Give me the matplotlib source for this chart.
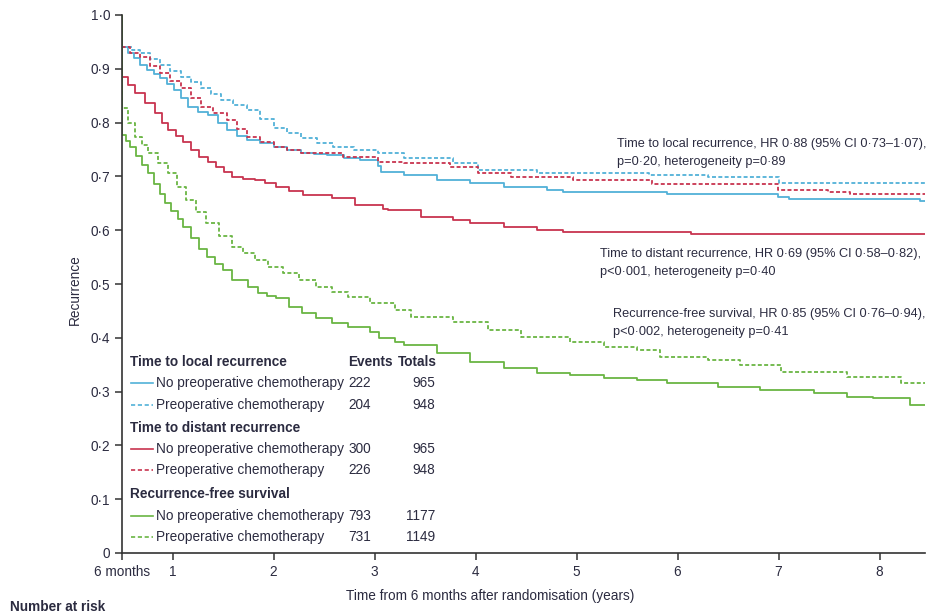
import matplotlib
matplotlib.use('Agg')
import matplotlib.pyplot as plt

plt.rcParams['font.family'] = ['Liberation Sans', 'DejaVu Sans']

# Kaplan-Meier style curves (time in years, proportion)
local_no_t = [0.5, 0.5, 0.56, 0.62, 0.68, 0.75, 0.82, 0.88, 0.95, 1.01, 1.08, 1.15, 1.25, 1.35, 1.45,
              1.54, 1.64, 1.74, 1.87, 2.0, 2.13, 2.27, 2.4, 2.53, 2.7, 2.86, 3.03, 3.06, 3.29, 3.62,
              3.95, 4.28, 4.71, 4.87, 5.9, 6.99, 7.1, 8.4, 8.45]
local_no_s = [1.0, 0.94, 0.93, 0.92, 0.907, 0.898, 0.89, 0.882, 0.872, 0.861, 0.845, 0.829, 0.82,
              0.814, 0.80, 0.786, 0.776, 0.768, 0.762, 0.755, 0.749, 0.743, 0.741, 0.74, 0.735, 0.73,
              0.72, 0.709, 0.703, 0.693, 0.687, 0.68, 0.675, 0.671, 0.667, 0.662, 0.658, 0.655, 0.655]

local_pre_t = [0.5, 0.5, 0.6, 0.68, 0.78, 0.88, 0.98, 1.08, 1.18, 1.28, 1.38, 1.48, 1.6, 1.74, 1.87,
               2.0, 2.13, 2.27, 2.43, 2.59, 2.8, 3.03, 3.29, 3.78, 4.02, 4.61, 5.72, 6.3, 7.0, 8.45]
local_pre_s = [1.0, 0.94, 0.935, 0.929, 0.918, 0.907, 0.896, 0.885, 0.875, 0.864, 0.853, 0.842, 0.832,
               0.823, 0.806, 0.79, 0.78, 0.771, 0.763, 0.755, 0.749, 0.743, 0.734, 0.725, 0.712, 0.706,
               0.703, 0.699, 0.688, 0.688]

dist_no_t = [0.5, 0.5, 0.56, 0.63, 0.73, 0.83, 0.9, 0.96, 1.03, 1.10, 1.18, 1.26, 1.35, 1.43, 1.51,
             1.59, 1.7, 1.82, 1.92, 2.02, 2.15, 2.29, 2.58, 2.81, 3.08, 3.13, 3.46, 3.78, 3.95, 4.28,
             4.61, 4.87, 6.13, 8.45]
dist_no_s = [1.0, 0.885, 0.87, 0.855, 0.837, 0.818, 0.80, 0.786, 0.775, 0.764, 0.75, 0.736, 0.726,
             0.717, 0.708, 0.699, 0.696, 0.693, 0.687, 0.68, 0.672, 0.665, 0.66, 0.647, 0.64, 0.637,
             0.625, 0.619, 0.613, 0.606, 0.6, 0.597, 0.593, 0.593]

dist_pre_t = [0.5, 0.5, 0.58, 0.68, 0.78, 0.88, 0.98, 1.08, 1.18, 1.28, 1.4, 1.54, 1.64, 1.74, 1.87,
              2.0, 2.13, 2.27, 2.69, 3.03, 3.29, 3.75, 4.02, 4.35, 4.97, 5.75, 6.99, 7.49, 7.71, 8.45]
dist_pre_s = [1.0, 0.94, 0.93, 0.922, 0.905, 0.892, 0.878, 0.864, 0.846, 0.829, 0.818, 0.805, 0.789,
              0.773, 0.764, 0.755, 0.749, 0.743, 0.736, 0.727, 0.725, 0.717, 0.706, 0.699, 0.693,
              0.685, 0.675, 0.671, 0.667, 0.667]

rfs_no_t = [0.5, 0.5, 0.54, 0.58, 0.64, 0.7, 0.76, 0.82, 0.88, 0.93, 0.99, 1.05, 1.10, 1.18, 1.26,
            1.34, 1.42, 1.50, 1.59, 1.75, 1.85, 1.94, 2.02, 2.15, 2.28, 2.42, 2.58, 2.74, 2.96, 3.04,
            3.2, 3.29, 3.62, 3.95, 4.28, 4.61, 4.94, 5.27, 5.6, 5.9, 6.4, 6.82, 7.35, 7.68, 7.94,
            8.3, 8.45]
rfs_no_s = [1.0, 0.777, 0.766, 0.755, 0.738, 0.722, 0.706, 0.686, 0.667, 0.65, 0.635, 0.62, 0.606,
            0.585, 0.565, 0.55, 0.538, 0.526, 0.507, 0.494, 0.483, 0.478, 0.474, 0.457, 0.447, 0.437,
            0.428, 0.42, 0.41, 0.40, 0.392, 0.387, 0.372, 0.355, 0.344, 0.334, 0.331, 0.325, 0.322,
            0.316, 0.309, 0.303, 0.297, 0.29, 0.288, 0.275, 0.275]

rfs_pre_t = [0.5, 0.5, 0.56, 0.63, 0.7, 0.76, 0.86, 0.96, 1.04, 1.13, 1.23, 1.33, 1.46, 1.59, 1.7,
             1.82, 1.95, 2.09, 2.25, 2.42, 2.58, 2.74, 2.96, 3.2, 3.36, 3.78, 4.12, 4.45, 4.94, 5.27,
             5.6, 5.83, 6.3, 6.62, 7.02, 7.68, 8.21, 8.45]
rfs_pre_s = [1.0, 0.827, 0.80, 0.773, 0.758, 0.743, 0.725, 0.706, 0.68, 0.656, 0.634, 0.613, 0.59,
             0.569, 0.557, 0.545, 0.532, 0.52, 0.507, 0.494, 0.485, 0.476, 0.465, 0.452, 0.439, 0.43,
             0.414, 0.402, 0.392, 0.383, 0.377, 0.365, 0.359, 0.349, 0.337, 0.327, 0.316, 0.316]

x_ticks = [0.5, 1, 2, 3, 4, 5, 6, 7, 8]
x_labels = ['6 months', '1', '2', '3', '4', '5', '6', '7', '8']
y_ticks = [0, 0.1, 0.2, 0.3, 0.4, 0.5, 0.6, 0.7, 0.8, 0.9, 1.0]
y_labels = ['0', '0·1', '0·2', '0·3', '0·4', '0·5', '0·6', '0·7', '0·8', '0·9', '1·0']

groups = ['Time to local recurrence', 'Time to distant recurrence', 'Recurrence-free survival']
arms = ['No preoperative chemotherapy', 'Preoperative chemotherapy']
events = [[222, 204], [300, 226], [793, 731]]
totals = [[965, 948], [965, 948], [1177, 1149]]

hr_text = [
    'Time to local recurrence, HR 0·88 (95% CI 0·73–1·07),\np=0·20, heterogeneity p=0·89',
    'Time to distant recurrence, HR 0·69 (95% CI 0·58–0·82),\np<0·001, heterogeneity p=0·40',
    'Recurrence-free survival, HR 0·85 (95% CI 0·76–0·94),\np<0·002, heterogeneity p=0·41',
]

blue = '#52b1d8'
red = '#c8344f'
green = '#6ab543'
txt = '#2b2b40'
colors = [blue, red, green]

W, H = 930, 613
fig = plt.figure(figsize=(W / 100, H / 100), dpi=100)
ax = fig.add_axes([122 / W, 1 - 553 / H, (925 - 122) / W, (553 - 15) / H])

lw = 1.3
dash = (0, (2.2, 1.3))
ax.plot(local_no_t, local_no_s, drawstyle='steps-post', color=blue, lw=lw)
ax.plot(local_pre_t, local_pre_s, drawstyle='steps-post', color=blue, lw=lw, linestyle=dash)
ax.plot(dist_no_t, dist_no_s, drawstyle='steps-post', color=red, lw=lw)
ax.plot(dist_pre_t, dist_pre_s, drawstyle='steps-post', color=red, lw=lw, linestyle=dash)
ax.plot(rfs_no_t, rfs_no_s, drawstyle='steps-post', color=green, lw=lw)
ax.plot(rfs_pre_t, rfs_pre_s, drawstyle='steps-post', color=green, lw=lw, linestyle=dash)

fs = 9.8
ax.set_xlim(0.5, 8.45)
ax.set_ylim(0, 1.0)
ax.set_xticks(x_ticks)
ax.set_xticklabels(x_labels)
ax.set_yticks(y_ticks)
ax.set_yticklabels(y_labels)
for s in ['top', 'right']:
    ax.spines[s].set_visible(False)
for s in ['left', 'bottom']:
    ax.spines[s].set_color('#333333')
    ax.spines[s].set_linewidth(1.2)
ax.tick_params(axis='both', colors='#333333', labelcolor=txt, labelsize=fs, length=5, width=1.1)
ax.set_ylabel('Recurrence', fontsize=fs, color=txt)
ax.yaxis.set_label_coords(-0.05, 0.49)
ax.set_xlabel('Time from 6 months after randomisation (years)', fontsize=fs, color=txt)
ax.xaxis.set_label_coords(0.458, -0.066)


def fx(px):
    return px / W


def fy(py):
    return 1 - py / H


# legend table with events and totals
fig.text(fx(348), fy(362), 'Events', fontsize=fs, fontweight='bold', color=txt, va='center')
fig.text(fx(437), fy(362), 'Totals', fontsize=fs, fontweight='bold', color=txt, va='center', ha='right')
row_y = [[362, 383, 405], [428, 449, 470], [494, 516, 537]]
for g in range(3):
    hy, y1, y2 = row_y[g]
    fig.text(fx(130), fy(hy), groups[g], fontsize=fs, fontweight='bold', color=txt, va='center')
    for a, yy in enumerate([y1, y2]):
        ls = '-' if a == 0 else (0, (2.5, 1.6))
        fig.add_artist(plt.Line2D([fx(131), fx(153)], [fy(yy), fy(yy)], color=colors[g], lw=1.2,
                                  linestyle=ls))
        fig.text(fx(156), fy(yy), arms[a], fontsize=fs, color=txt, va='center')
        fig.text(fx(348), fy(yy), str(events[g][a]), fontsize=fs, color=txt, va='center')
        fig.text(fx(435), fy(yy), str(totals[g][a]), fontsize=fs, color=txt, va='center', ha='right')

# hazard ratio annotations
hs = 9.2
fig.text(fx(617), fy(153), hr_text[0], fontsize=hs, color=txt, va='center', linespacing=1.6)
fig.text(fx(600), fy(263), hr_text[1], fontsize=hs, color=txt, va='center', linespacing=1.6)
fig.text(fx(613), fy(323), hr_text[2], fontsize=hs, color=txt, va='center', linespacing=1.6)

fig.text(fx(10), fy(600), 'Number at risk', fontsize=fs, fontweight='bold', color=txt, va='top')

fig.savefig('out.png', dpi=100)
